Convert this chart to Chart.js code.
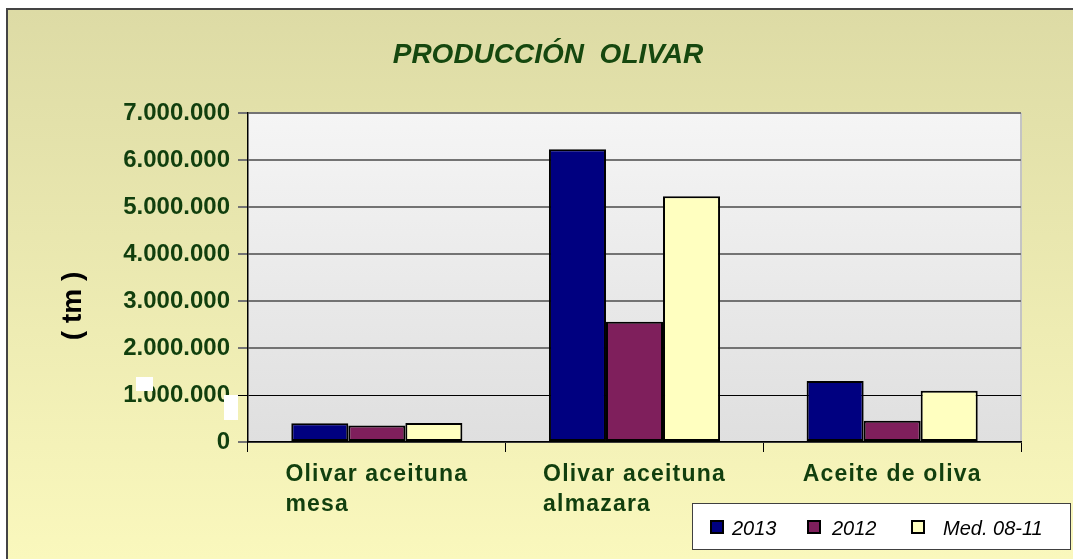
<!DOCTYPE html>
<html>
<head>
<meta charset="utf-8">
<script src="https://cdn.jsdelivr.net/npm/chart.js@4.4.1/dist/chart.umd.min.js"></script>
<style>
  html, body { margin: 0; padding: 0; background: #ffffff; }
  canvas { display: block; }
</style>
</head>
<body>
<canvas id="c" width="1073" height="559"></canvas>
<script>
// ---- Data ----
const categories = [["Olivar aceituna", "mesa"], ["Olivar aceituna", "almazara"], ["Aceite de oliva"]];
const seriesNames = ["2013", "2012", "Med. 08-11"];
const values2013 = [400000, 6230000, 1300000];
const values2012 = [350000, 2560000, 450000];
const valuesMed = [405000, 5230000, 1090000];
const yTicks = [0, 1000000, 2000000, 3000000, 4000000, 5000000, 6000000, 7000000];
const chartTitle = "PRODUCCIÓN  OLIVAR";
const yTitle = "( tm )";

// ---- Styles ----
const FONT = '"Liberation Sans", Arial, sans-serif';
const GREEN = '#113f0e';
const colors = ['#000080', '#7f1f5c', '#ffffc0'];

function fmt(v) {
  return String(v).replace(/\B(?=(\d{3})+(?!\d))/g, '.');
}

const decor = {
  id: 'decor',
  beforeDraw(chart) {
    const ctx = chart.ctx;
    const W = chart.width, H = chart.height;
    ctx.save();
    ctx.fillStyle = '#ffffff';
    ctx.fillRect(0, 0, W, H);
    const g = ctx.createLinearGradient(0, 9, 0, H);
    g.addColorStop(0, '#dddba5');
    g.addColorStop(1, '#faf8bd');
    ctx.fillStyle = g;
    ctx.fillRect(8, 9, W - 8, H - 9);
    ctx.strokeStyle = '#444444';
    ctx.lineWidth = 2;
    ctx.beginPath();
    ctx.moveTo(7, H);
    ctx.lineTo(7, 9);
    ctx.lineTo(W, 9);
    ctx.stroke();
    // plot area
    const a = chart.chartArea;
    const pg = ctx.createLinearGradient(0, a.top, 0, a.bottom);
    pg.addColorStop(0, '#f5f5f5');
    pg.addColorStop(1, '#dfdfdf');
    ctx.fillStyle = pg;
    ctx.fillRect(a.left, a.top, a.right - a.left, a.bottom - a.top);
    ctx.strokeStyle = '#c4c4c4';
    ctx.lineWidth = 2;
    ctx.beginPath();
    ctx.moveTo(a.right, a.top);
    ctx.lineTo(a.right, a.bottom);
    ctx.stroke();
    ctx.restore();
  },
  afterDraw(chart) {
    const ctx = chart.ctx;
    ctx.save();
    // title
    ctx.fillStyle = '#16480f';
    ctx.font = 'italic bold 28px ' + FONT;
    ctx.textAlign = 'center';
    ctx.textBaseline = 'alphabetic';
    ctx.fillText(chartTitle, 548, 63);
    // y title
    ctx.save();
    ctx.translate(73, 306);
    ctx.rotate(-Math.PI / 2);
    ctx.fillStyle = '#000000';
    ctx.font = 'bold 28px ' + FONT;
    ctx.textAlign = 'center';
    ctx.textBaseline = 'middle';
    ctx.fillText(yTitle, 0, 0);
    ctx.restore();
    // x labels
    const xs = chart.scales.x;
    ctx.fillStyle = GREEN;
    ctx.font = 'bold 23px ' + FONT;
    ctx.letterSpacing = '1.2px';
    ctx.textAlign = 'left';
    ctx.textBaseline = 'alphabetic';
    chart.data.labels.forEach((lines, i) => {
      const x = xs.getPixelForTick(i);
      const w = ctx.measureText(lines[0]).width;
      lines.forEach((ln, j) => {
        ctx.fillText(ln, x - w / 2, 481 + j * 30);
      });
    });
    ctx.letterSpacing = '0px';
    // legend
    ctx.fillStyle = '#ffffff';
    ctx.fillRect(692.5, 503.5, 378, 46);
    ctx.strokeStyle = '#404040';
    ctx.lineWidth = 1;
    ctx.strokeRect(692.5, 503.5, 378, 46);
    const mx = [711, 808, 912];
    const tx = [732, 832, 943];
    ctx.font = 'italic 20px ' + FONT;
    ctx.textAlign = 'left';
    ctx.textBaseline = 'alphabetic';
    chart.data.datasets.forEach((ds, i) => {
      ctx.fillStyle = ds.backgroundColor;
      ctx.fillRect(mx[i], 521, 12, 12);
      ctx.strokeStyle = '#000000';
      ctx.lineWidth = 2;
      ctx.strokeRect(mx[i], 521, 12, 12);
      ctx.fillStyle = '#000000';
      ctx.fillText(ds.label, tx[i], 535);
    });
    // small white marks
    ctx.fillStyle = '#ffffff';
    ctx.fillRect(136, 377, 17, 14);
    ctx.fillRect(224, 395, 14, 25);
    ctx.restore();
  }
};

new Chart(document.getElementById('c'), {
  type: 'bar',
  data: {
    labels: categories,
    datasets: [
      { label: seriesNames[0], data: values2013, backgroundColor: colors[0] },
      { label: seriesNames[1], data: values2012, backgroundColor: colors[1] },
      { label: seriesNames[2], data: valuesMed, backgroundColor: colors[2] }
    ]
  },
  options: {
    responsive: false,
    animation: false,
    devicePixelRatio: 1,
    layout: { padding: { top: 113, right: 52, left: 0, bottom: 0 } },
    datasets: {
      bar: {
        barPercentage: 1,
        categoryPercentage: 0.664,
        borderColor: '#000000',
        borderWidth: 2,
        borderSkipped: false
      }
    },
    plugins: {
      legend: { display: false },
      title: { display: false },
      tooltip: { enabled: false }
    },
    scales: {
      x: {
        offset: true,
        afterFit(s) { s.height = 117; },
        grid: {
          offset: true,
          drawOnChartArea: false,
          drawTicks: true,
          tickLength: 10,
          color: '#000000',
          lineWidth: 1
        },
        border: { display: true, color: '#000000', width: 1.5 },
        ticks: { display: false }
      },
      y: {
        min: 0,
        max: 7000000,
        afterFit(s) { s.width = 248; },
        afterBuildTicks(s) { s.ticks = yTicks.map(v => ({ value: v })); },
        grid: {
          color: (c) => (c.tick && c.tick.value === 1000000) ? '#000000' : '#737373',
          lineWidth: (c) => (c.tick && c.tick.value === 1000000) ? 1 : 2,
          tickLength: 10
        },
        border: { display: true, color: '#000000', width: 1.5 },
        ticks: {
          padding: 8,
          color: GREEN,
          font: { family: FONT, size: 24, weight: 'bold' },
          callback: (v) => fmt(v)
        }
      }
    }
  },
  plugins: [decor]
});
</script>
</body>
</html>
